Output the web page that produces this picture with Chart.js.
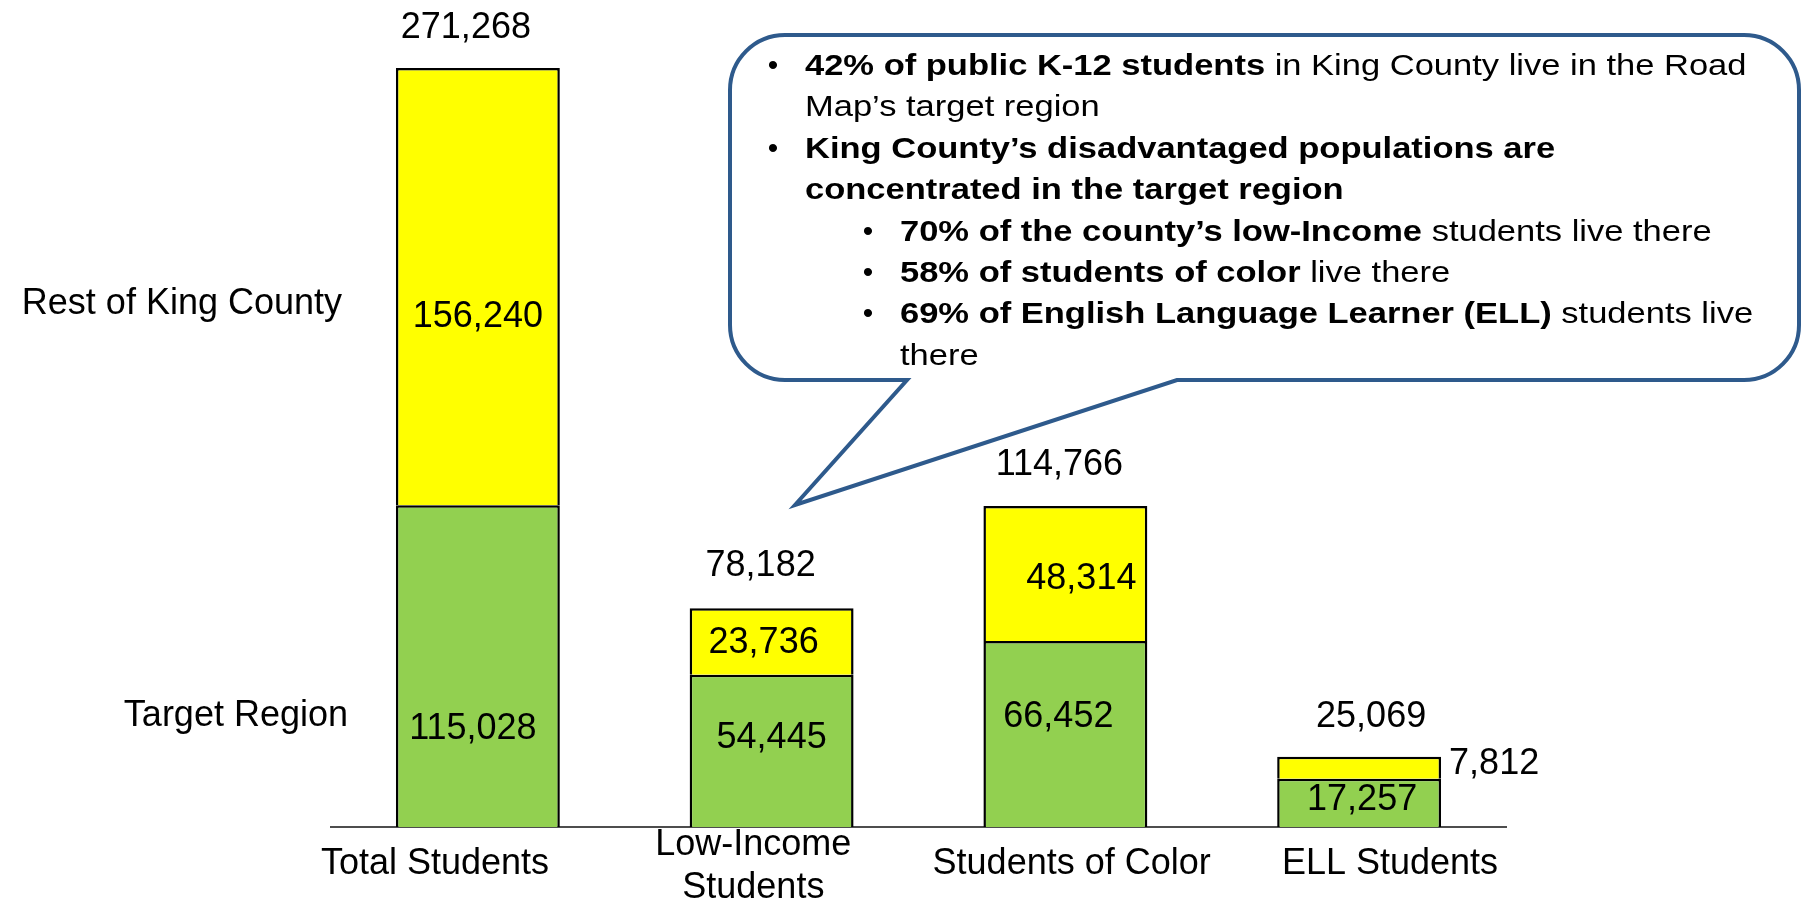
<!DOCTYPE html>
<html>
<head>
<meta charset="utf-8">
<title>King County Students</title>
<script src="https://cdn.jsdelivr.net/npm/chart.js"></script>
<style>
  html, body { margin: 0; padding: 0; background: #fff; overflow: hidden; }
</style>
</head>
<body>
<canvas id="studentChart" width="1802" height="901"></canvas>
<script>
// data
const categories = ['Total Students', ['Low-Income', 'Students'], 'Students of Color', 'ELL Students'];
const targetRegion = [115028, 54445, 66452, 17257];
const restOfCounty = [156240, 23736, 48314, 7812];
const totals = [271268, 78182, 114766, 25069];
const seriesNames = ['Target Region', 'Rest of King County'];

// callout text, [text, bold] runs per line
const calloutLines = [
  { level: 1, bullet: true, runs: [['42% of public K-12 students', true], [' in King County live in the Road', false]] },
  { level: 1, bullet: false, runs: [['Map\u2019s target region', false]] },
  { level: 1, bullet: true, runs: [['King County\u2019s disadvantaged populations are', true]] },
  { level: 1, bullet: false, runs: [['concentrated in the target region', true]] },
  { level: 2, bullet: true, runs: [['70% of the county\u2019s low-Income', true], [' students live there', false]] },
  { level: 2, bullet: true, runs: [['58% of students of color', true], [' live there', false]] },
  { level: 2, bullet: true, runs: [['69% of English Language Learner (ELL)', true], [' students live', false]] },
  { level: 2, bullet: false, runs: [['there', false]] }
];

const FONT = '"Liberation Sans", Arial, Helvetica, sans-serif';
const fmt = v => v.toLocaleString('en-US');

// small hand nudges so labels sit where the slide put them
const labelNudge = [
  [[-5, 60], [0, -15.5], [-7, -20], [3, -6]],
  [[0, 27.5], [-8, -1], [16, 2], [135, -6.5]]
];
const totalNudge = [[-12, -43.5], [-11, -45], [-6, -43.5], [12, -42.5]];

const barLabels = {
  id: 'barLabels',
  afterDatasetsDraw(chart) {
    const ctx = chart.ctx;
    ctx.save();
    ctx.font = '36px ' + FONT;
    ctx.fillStyle = '#000';
    ctx.textAlign = 'center';
    ctx.textBaseline = 'alphabetic';
    chart.data.datasets.forEach((ds, i) => {
      chart.getDatasetMeta(i).data.forEach((bar, j) => {
        const n = labelNudge[i][j];
        ctx.fillText(fmt(ds.data[j]), bar.x + n[0], (bar.y + bar.base) / 2 + n[1] + 13);
      });
    });
    const top = chart.getDatasetMeta(1).data;
    totals.forEach((t, j) => {
      ctx.fillText(fmt(t), top[j].x + totalNudge[j][0], top[j].y + totalNudge[j][1] + 13);
    });
    // series names to the left of the first bar
    const first = [chart.getDatasetMeta(0).data[0], chart.getDatasetMeta(1).data[0]];
    ctx.textAlign = 'right';
    const left = chart.chartArea.left;
    ctx.fillText(seriesNames[1], left + 11, (first[1].y + first[1].base) / 2 + 14 + 13);
    ctx.fillText(seriesNames[0], left + 17, (first[0].y + first[0].base) / 2 + 46.5 + 13);
    ctx.restore();
  }
};

const callout = {
  id: 'callout',
  afterDraw(chart) {
    const ctx = chart.ctx;
    const L = 730, T = 35, R = 1799, B = 380, r = 55;
    ctx.save();
    ctx.beginPath();
    ctx.moveTo(L + r, T);
    ctx.lineTo(R - r, T);
    ctx.arcTo(R, T, R, T + r, r);
    ctx.lineTo(R, B - r);
    ctx.arcTo(R, B, R - r, B, r);
    ctx.lineTo(1177, B);
    ctx.lineTo(795, 505);
    ctx.lineTo(907, B);
    ctx.lineTo(L + r, B);
    ctx.arcTo(L, B, L, B - r, r);
    ctx.lineTo(L, T + r);
    ctx.arcTo(L, T, L + r, T, r);
    ctx.closePath();
    ctx.fillStyle = '#fff';
    ctx.fill();
    ctx.lineWidth = 4;
    ctx.lineJoin = 'miter';
    ctx.strokeStyle = '#2E5A8C';
    ctx.stroke();

    ctx.fillStyle = '#000';
    ctx.textBaseline = 'alphabetic';
    calloutLines.forEach((line, i) => {
      const y = 75 + i * 41.4;
      const tx = line.level === 1 ? 805 : 900;
      const bx = line.level === 1 ? 773 : 868;
      if (line.bullet) {
        ctx.save();
        ctx.font = '30px ' + FONT;
        ctx.textAlign = 'center';
        ctx.fillText('\u2022', bx, y);
        ctx.restore();
      }
      ctx.save();
      ctx.translate(tx, y);
      ctx.scale(1.15, 1);
      ctx.textAlign = 'left';
      let x = 0;
      line.runs.forEach(([text, bold]) => {
        ctx.font = (bold ? 'bold ' : '') + '30px ' + FONT;
        ctx.fillText(text, x, 0);
        x += ctx.measureText(text).width;
      });
      ctx.restore();
    });
    ctx.restore();
  }
};

new Chart(document.getElementById('studentChart').getContext('2d'), {
  type: 'bar',
  data: {
    labels: categories,
    datasets: [
      { label: seriesNames[0], data: targetRegion, backgroundColor: '#92D050', borderColor: '#000', borderWidth: 2.5 },
      { label: seriesNames[1], data: restOfCounty, backgroundColor: '#FFFF00', borderColor: '#000', borderWidth: 2.5 }
    ]
  },
  options: {
    responsive: false,
    animation: false,
    layout: { padding: { left: 331, right: 296, top: 0, bottom: 0 } },
    plugins: { legend: { display: false }, tooltip: { enabled: false } },
    datasets: { bar: { categoryPercentage: 1, barPercentage: 0.558 } },
    scales: {
      x: {
        stacked: true,
        weight: 0,
        grid: { display: false },
        border: { display: true, color: '#4D4D4D', width: 2 },
        ticks: { display: false },
        afterFit: s => { s.height = 0; }
      },
      // category names sit on their own, slightly wider spacing on the slide
      xl: {
        type: 'linear',
        position: 'bottom',
        weight: 1,
        offset: false,
        min: -0.3267,
        max: 3.3644,
        grid: { display: false, offset: false },
        border: { display: false },
        afterBuildTicks: s => { s.ticks = categories.map((c, i) => ({ value: i })); },
        ticks: {
          callback: v => categories[v],
          font: c => ({ family: FONT, size: 36, lineHeight: Array.isArray(categories[c.index]) ? 1.2 : 1.344 }),
          color: '#000',
          padding: 10,
          crossAlign: 'center',
          autoSkip: false,
          maxRotation: 0,
          minRotation: 0
        },
        afterFit: s => { s.height = 74; }
      },
      y: { stacked: true, display: false, min: 0, max: 295600 }
    }
  },
  plugins: [barLabels, callout]
});
</script>
</body>
</html>
